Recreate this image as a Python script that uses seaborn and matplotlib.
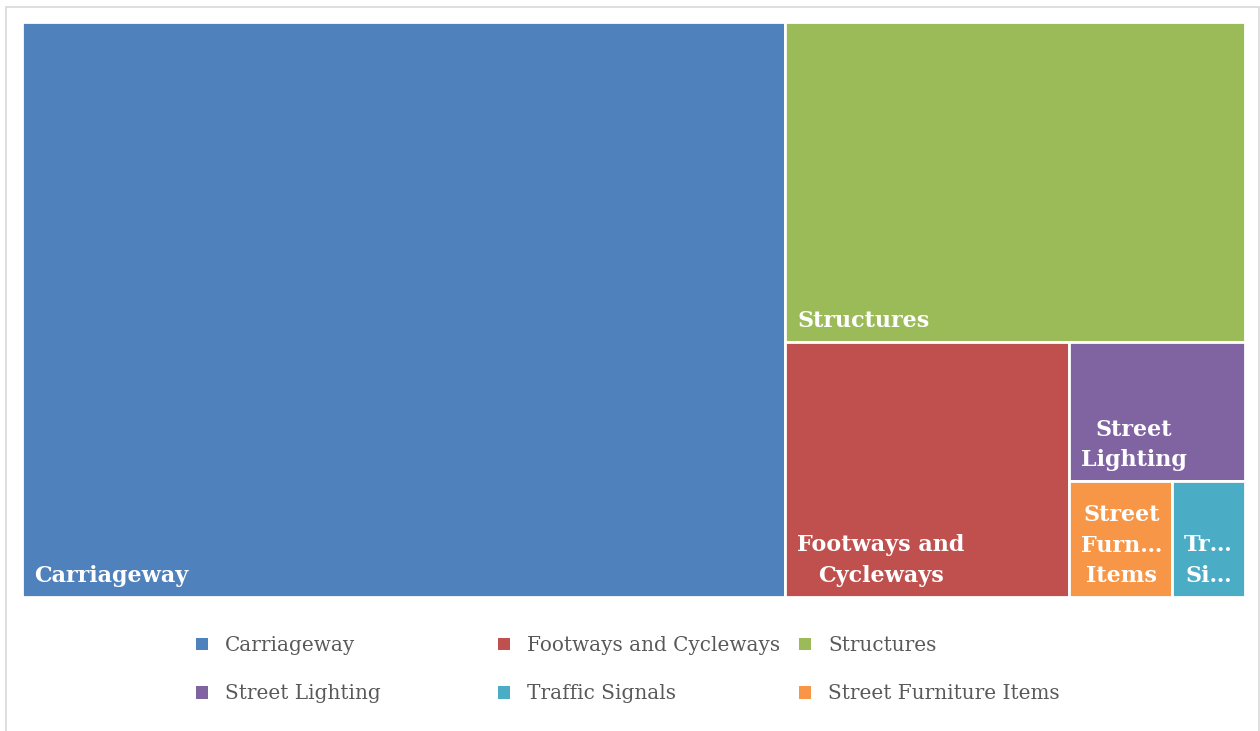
import matplotlib
matplotlib.use("Agg")
import matplotlib.pyplot as plt
import matplotlib.patches as mpatches
import seaborn as sns

categories = ["Carriageway", "Footways and Cycleways", "Structures",
              "Street Lighting", "Traffic Signals", "Street Furniture Items"]
values = [62.4, 10.3, 20.9, 3.5, 1.2, 1.7]
colors = ["#4F81BD", "#C0504D", "#9BBB59", "#8064A2", "#4BACC6", "#F79646"]
tile_labels = ["Carriageway", "Footways and\nCycleways", "Structures",
               "Street\nLighting", "Tr…\nSi…", "Street\nFurn…\nItems"]

sns.set_theme(style="white")
plt.rcParams["font.family"] = ["DejaVu Serif"]

FW, FH = 1260, 731
fig = plt.figure(figsize=(FW / 100, FH / 100), dpi=100)
fig.patch.set_facecolor("white")

# outer border
fig.patches.append(mpatches.Rectangle((6 / FW, -0.02), (1259 - 6) / FW, (FH - 7) / FH + 0.02,
                                      transform=fig.transFigure, fill=False,
                                      edgecolor="#d9d9d9", linewidth=1.2))

W, H = 1223.0, 575.0
ax = fig.add_axes([22 / FW, 1 - 597 / FH, W / FW, H / FH])
ax.set_xlim(0, W)
ax.set_ylim(H, 0)
ax.axis("off")


def layout(vals, x, y, w, h):
    rects = []
    total = sum(vals)
    for v in vals:
        frac = v / total
        if w >= h:
            ww = w * frac
            rects.append((x, y, ww, h))
            x += ww
            w -= ww
        else:
            hh = h * frac
            rects.append((x, y, w, hh))
            y += hh
            h -= hh
        total -= v
    return rects


order = sorted(range(len(values)), key=lambda i: -values[i])
rects = layout([values[i] for i in order], 0, 0, W, H)

for idx, (x, y, w, h) in zip(order, rects):
    ax.add_patch(mpatches.Rectangle((x, y), w, h, facecolor=colors[idx],
                                    edgecolor="white", linewidth=2))
    ax.text(x + 12, y + h - 10, tile_labels[idx], ha="left", va="bottom",
            multialignment="center", color="white", fontweight="bold",
            fontsize=16, linespacing=1.5)

# legend: three columns with equal widths
col_x = [196, 498, 799]
for c in range(3):
    idxs = [c, c + 3]
    handles = [mpatches.Patch(facecolor=colors[i], edgecolor="none") for i in idxs]
    labels = [categories[i] for i in idxs]
    fig.legend(handles, labels, loc="upper left",
               bbox_to_anchor=(col_x[c] / FW, 1 - 636 / FH),
               frameon=False, ncol=1, fontsize=14.4,
               handlelength=0.6, handleheight=0.6, handletextpad=0.85,
               labelspacing=1.46, borderpad=0, borderaxespad=0,
               labelcolor="#595959")

fig.savefig("out.png", dpi=100)
